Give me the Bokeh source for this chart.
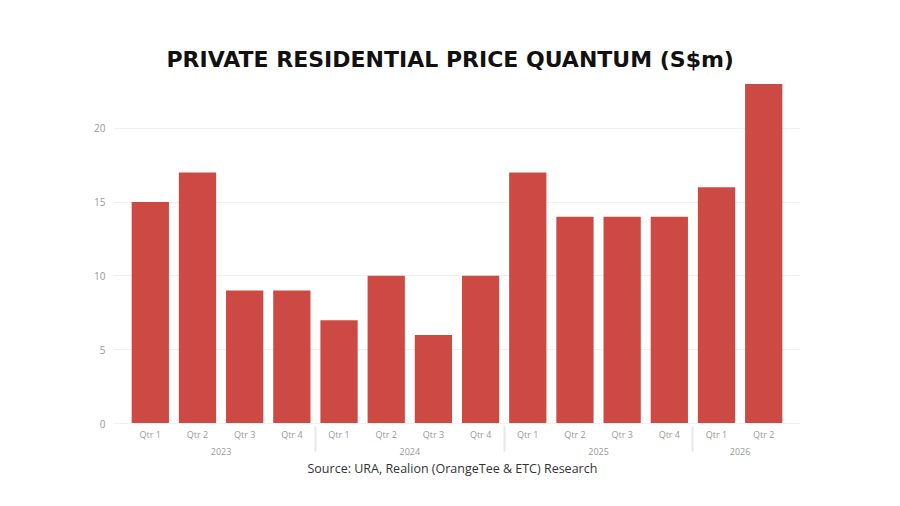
from bokeh.plotting import figure
from bokeh.models import FactorRange, Range1d, Title, ColumnDataSource
from bokeh.embed import file_html
from bokeh.resources import INLINE

years = ["2023", "2024", "2025", "2026"]
quarters = [["Qtr 1", "Qtr 2", "Qtr 3", "Qtr 4"],
            ["Qtr 1", "Qtr 2", "Qtr 3", "Qtr 4"],
            ["Qtr 1", "Qtr 2", "Qtr 3", "Qtr 4"],
            ["Qtr 1", "Qtr 2"]]
quantum = [15, 17, 9, 9, 7, 10, 6, 10, 17, 14, 14, 14, 16, 23]
y_ticks = [0, 5, 10, 15, 20]

factors = [(yr, q) for yr, qs in zip(years, quarters) for q in qs]
source = ColumnDataSource(data=dict(x=factors, top=quantum))

x_range = FactorRange(*factors, group_padding=0, factor_padding=0,
                      range_padding=0.28, range_padding_units="absolute")

p = figure(x_range=x_range, y_range=Range1d(0, 23.3), width=884, height=490,
           output_backend="svg", toolbar_location=None,
           min_border_left=113, min_border_right=84,
           min_border_top=79, min_border_bottom=67)

p.vbar(x="x", top="top", width=0.79, source=source,
       fill_color="#cc4a43", line_color=None)

# titel, links uitgelijnd met offset zodat hij op het midden van de pagina staat
p.title.text = "PRIVATE RESIDENTIAL PRICE QUANTUM (S$m)"
p.title.align = "left"
p.title.offset = 53
p.title.text_font = "DejaVu Sans"
p.title.text_font_size = "22px"
p.title.text_font_style = "bold"
p.title.text_color = "#111111"
p.title.standoff = 16

p.add_layout(Title(text="Source: URA, Realion (OrangeTee & ETC) Research",
                   align="left", offset=194, text_font="Open Sans",
                   text_font_size="12.5px", text_font_style="normal",
                   text_color="#333333", standoff=0), "below")

p.outline_line_color = None
p.xgrid.grid_line_color = None
p.ygrid.grid_line_color = "#f0f0f0"
p.yaxis.ticker = y_ticks
p.yaxis.axis_line_color = None
p.yaxis.major_tick_line_color = None
p.yaxis.minor_tick_line_color = None
p.yaxis.major_tick_out = 0
p.yaxis.major_label_text_color = "#999999"
p.yaxis.major_label_text_font = "Open Sans"
p.yaxis.major_label_text_font_size = "10px"
p.yaxis.major_label_standoff = 8

p.xaxis.axis_line_color = "#f0f0f0"
p.xaxis.major_tick_line_color = None
p.xaxis.minor_tick_line_color = None
p.xaxis.major_tick_out = 0
p.xaxis.major_label_standoff = 4
p.xaxis.major_label_text_color = "#999999"
p.xaxis.major_label_text_font = "Open Sans"
p.xaxis.major_label_text_font_size = "9px"
p.xaxis.group_text_color = "#999999"
p.xaxis.group_text_font = "Open Sans"
p.xaxis.group_text_font_size = "9px"
p.xaxis.group_text_font_style = "normal"
p.xaxis.separator_line_color = "#e8e8e8"

open("out.html", "w").write(file_html(p, INLINE))
